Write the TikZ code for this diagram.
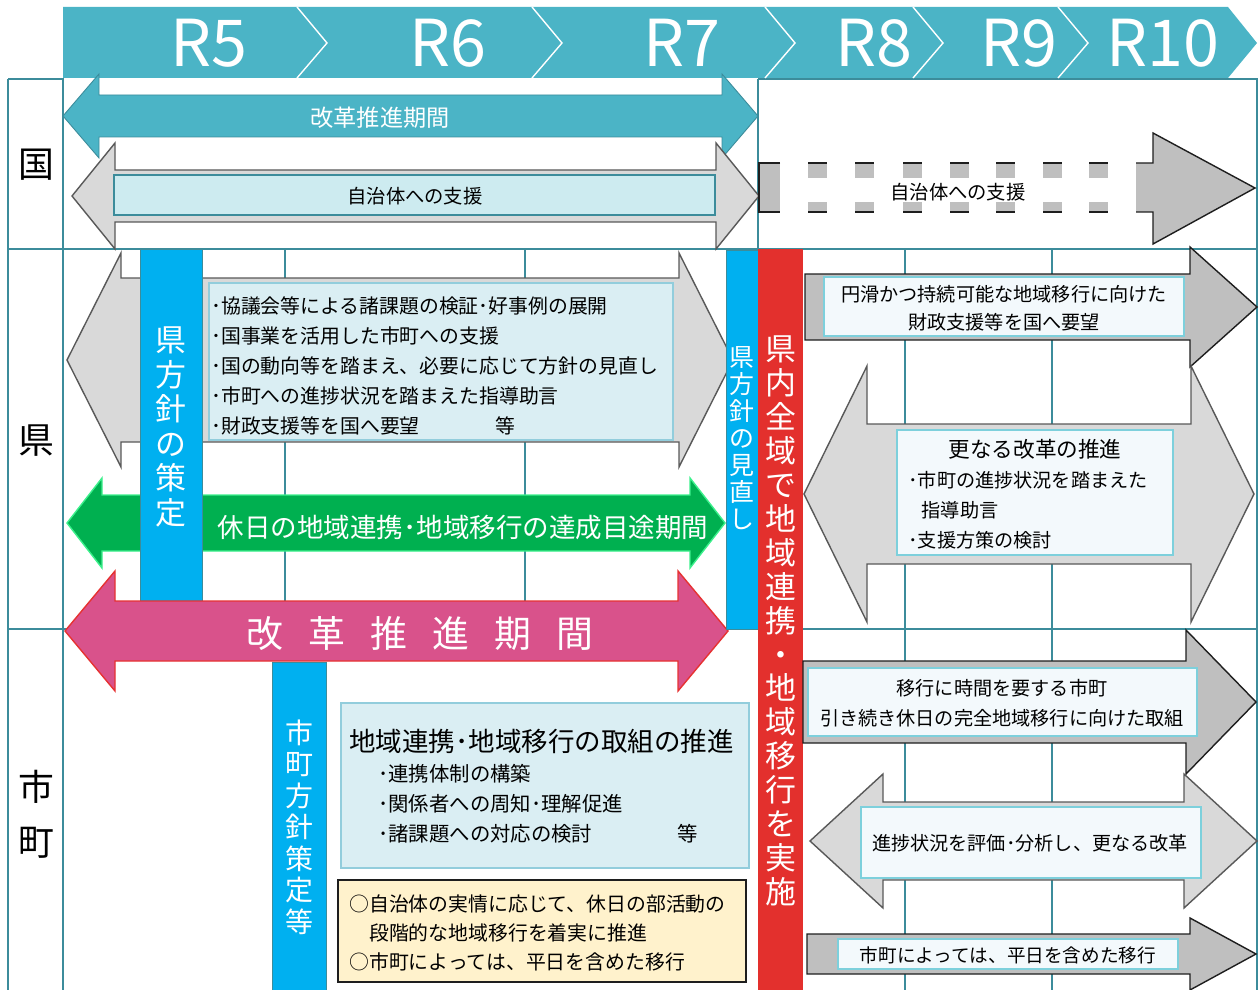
\documentclass[tikz,border=0pt]{standalone}
\usepackage{fontspec}
\setmainfont{Noto Sans CJK JP}
\usetikzlibrary{positioning}

\definecolor{hdrteal}{RGB}{75,180,198}
\definecolor{gridc}{RGB}{60,140,155}
\definecolor{lgray}{RGB}{217,217,217}
\definecolor{lgrayline}{RGB}{89,89,89}
\definecolor{dgray}{RGB}{191,191,191}
\definecolor{dgrayline}{RGB}{30,30,30}
\definecolor{cyanbox}{RGB}{205,235,240}
\definecolor{paleblue}{RGB}{218,238,243}
\definecolor{paleline}{RGB}{146,205,220}
\definecolor{whitebox}{RGB}{243,249,252}
\definecolor{whiteline}{RGB}{125,208,220}
\definecolor{barblue}{RGB}{0,176,240}
\definecolor{barred}{RGB}{227,48,45}
\definecolor{arrgreen}{RGB}{0,176,80}
\definecolor{arrgreenline}{RGB}{60,240,140}
\definecolor{arrpink}{RGB}{217,82,139}
\definecolor{arrpinkline}{RGB}{230,50,50}
\definecolor{notebox}{RGB}{255,242,204}

\newcommand{\fz}[2]{\fontsize{#1}{#2}\selectfont}
% arrow with two heads: style, left tip, right tip, centre y, shaft half, head half, head length
\newcommand{\twoway}[7]{%
  \draw[#1] (#2,#4) -- (#2+#7,#4-#6) -- (#2+#7,#4-#5) -- (#3-#7,#4-#5) -- (#3-#7,#4-#6) -- (#3,#4)
    -- (#3-#7,#4+#6) -- (#3-#7,#4+#5) -- (#2+#7,#4+#5) -- (#2+#7,#4+#6) -- cycle;}
% arrow with one head: style, start, tip, centre y, shaft half, head half, head length
\newcommand{\oneway}[7]{%
  \draw[#1] (#2,#4-#5) -- (#3-#7,#4-#5) -- (#3-#7,#4-#6) -- (#3,#4) -- (#3-#7,#4+#6)
    -- (#3-#7,#4+#5) -- (#2,#4+#5) -- cycle;}

\begin{document}
\begin{tikzpicture}[x=0.02cm, y=-0.02cm]
        \tikzset{
            gridline/.style={draw=gridc, line width=0.7pt}, % table lines
            hdr/.style={font=\fz{36.8}{40}, text=white, anchor=base}, % year labels
            side/.style={font=\fz{20.4}{24}}, % row labels
            teal arrow/.style={fill=hdrteal, draw=gridc, line width=0.5pt},
            gray arrow/.style={fill=lgray, draw=lgrayline, line width=0.8pt},
            dark arrow/.style={fill=dgray, draw=dgrayline, line width=0.8pt},
            green arrow/.style={fill=arrgreen, draw=arrgreenline, line width=0.8pt},
            pink arrow/.style={fill=arrpink, draw=arrpinkline, line width=0.8pt},
            pale/.style={fill=paleblue, draw=paleline, line width=0.8pt},
            whitish/.style={fill=whitebox, draw=whiteline, line width=0.8pt},
            vbar/.style={text=white, align=center, inner sep=0pt},
            list/.style={anchor=west, align=left, inner sep=0pt},
            ctext/.style={align=center, inner sep=0pt},
            }
        \useasboundingbox (0,0) rectangle (1259,990);

        % grid
        \draw[gridline] (8,79) -- (63,79);
        \draw[gridline] (8,79) -- (8,990);
        \draw[gridline] (63,78) -- (63,990);
        \draw[gridline] (8,249) -- (1257,249);
        \draw[gridline] (8,629) -- (1257,629);
        \draw[gridline] (758,79) -- (1257,79) -- (1257,990);
        \draw[gridline] (758,79) -- (758,249);
        \foreach \x in {285,525} \draw[gridline] (\x,249) -- (\x,629);
        \foreach \x in {905,1052} \draw[gridline] (\x,249) -- (\x,990);

        % year band
        \fill[hdrteal] (63,7) -- (1228,7) -- (1257,43) -- (1228,78) -- (63,78) -- cycle;
        \foreach \x in {297,532,765,913,1058} \draw[white, line width=0.8pt] (\x,7) -- (\x+30,43) -- (\x,78);
        \node[hdr] (r5) at (209,67) {R5};
        \node[hdr] (r6) at (448,67) {R6};
        \node[hdr] (r7) at (682,67) {R7};
        \node[hdr] (r8) at (874,67) {R8};
        \node[hdr] (r9) at (1019,67) {R9};
        \node[hdr] (r10) at (1163,67) {R10};

        % row labels
        \node[side] (kuni) at (36,165) {国};
        \node[side] (ken) at (36,441) {県};
        \node[side] (shi) at (36,787) {市};
        \node[side, below=0.23cm of shi] (cho) {町};

        % kuni row
        \twoway{teal arrow}{63}{758}{116}{21}{42}{36}
        \node[font=\fz{13.2}{16}, text=white] (kikan) at (380,118) {改革推進期間};
        \twoway{gray arrow}{72}{759}{196}{26}{53}{43}
        \draw[fill=cyanbox, draw=gridc, line width=0.7pt] (114,175) rectangle (715,215);
        \node[font=\fz{11}{13}] (shien) at (415,196) {自治体への支援};
        \fill[dgray] (759,163) rectangle (780,212);
        \draw[dgrayline, line width=0.8pt] (780,163) -- (759,163) -- (759,212) -- (780,212);
        \foreach \x in {808,855,903,950,996,1043,1089} {
            \fill[dgray] (\x,163) rectangle (\x+19,178);
            \fill[dgray] (\x,202) rectangle (\x+19,212);
            \draw[dgrayline, line width=0.8pt] (\x,163) -- (\x+19,163);
            \draw[dgrayline, line width=0.8pt] (\x,212) -- (\x+19,212);
        }
        \fill[dgray] (1136,163) -- (1153,163) -- (1153,133) -- (1255,188) -- (1153,244) -- (1153,212) -- (1136,212) -- cycle;
        \draw[dgrayline, line width=0.8pt] (1136,163) -- (1153,163) -- (1153,133) -- (1255,188) -- (1153,244) -- (1153,212) -- (1136,212);
        \node[font=\fz{11}{13}] (shien2) at (958,192) {自治体への支援};

        % ken row
        \twoway{gray arrow}{67}{733}{360}{82}{107}{54}
        \draw[pale] (209,283) rectangle (673,440);
        \node[list, font=\fz{11.3}{17}] (kentasks) at (211,366) {･協議会等による諸課題の検証･好事例の展開\\･国事業を活用した市町への支援\\･国の動向等を踏まえ、必要に応じて方針の見直し\\･市町への進捗状況を踏まえた指導助言\\･財政支援等を国へ要望\hspace{3.8em}等};
        \twoway{green arrow}{67}{725}{523}{28}{45}{35}
        \node[font=\fz{15.1}{18}, text=white] (mokuto) at (463,527) {休日の地域連携･地域移行の達成目途期間};
        \draw[fill=barblue, draw=gridc, line width=0.5pt] (140,249) rectangle (202,601);
        \node[vbar, font=\fz{17.6}{19.6}] (kenplan) at (171,427) {県\\方\\針\\の\\策\\定};
        \twoway{pink arrow}{65}{728}{631}{30}{60}{50}
        \node[font=\fz{21}{24}, text=white] (kaikaku) at (420,634) {改\hspace{0.68em}革\hspace{0.68em}推\hspace{0.68em}進\hspace{0.68em}期\hspace{0.68em}間};
        \draw[fill=barblue, draw=gridc, line width=0.5pt] (726,250) rectangle (758,629);
        \node[vbar, font=\fz{14.2}{15.3}] (kenreview) at (742,438) {県\\方\\針\\の\\見\\直\\し};
        \fill[barred] (758,249) rectangle (803,990);
        \node[vbar, font=\fz{17.6}{19.3}] (zeniki) at (781,621) {県\\内\\全\\域\\で\\地\\域\\連\\携\\・\\地\\域\\移\\行\\を\\実\\施};

        % right side of ken row
        \oneway{dark arrow}{805}{1257}{307}{33}{60}{67}
        \draw[whitish] (824,277) rectangle (1184,336);
        \node[ctext, font=\fz{10.9}{15.9}] (zaisei) at (1004,308) {円滑かつ持続可能な地域移行に向けた\\財政支援等を国へ要望};
        \twoway{gray arrow}{804}{1254}{494}{70}{128}{63}
        \draw[whitish] (897,430) rectangle (1173,555);
        \node[font=\fz{12.3}{15}] (sarani) at (1035,449) {更なる改革の推進};
        \node[list, font=\fz{10.9}{17}] (saranilist) at (908,510) {･市町の進捗状況を踏まえた\\\hspace{0.7em}指導助言\\･支援方策の検討};

        % shicho row
        \draw[fill=barblue, draw=gridc, line width=0.5pt] (272,662) rectangle (326,990);
        \node[vbar, font=\fz{15.9}{17.9}] (shiplan) at (299,827) {市\\町\\方\\針\\策\\定\\等};
        \draw[pale] (341,703) rectangle (749,868);
        \node[anchor=west, inner sep=0pt, font=\fz{15.1}{18}] (torikumi) at (349,741) {地域連携･地域移行の取組の推進};
        \node[list, font=\fz{11.6}{17}] (torikumilist) at (378,804) {･連携体制の構築\\･関係者への周知･理解促進\\･諸課題への対応の検討\hspace{4.2em}等};
        \draw[fill=notebox, draw=dgrayline, line width=0.8pt] (338,880) rectangle (746,982);
        \node[list, font=\fz{11.3}{16.7}] (note) at (349,933) {○自治体の実情に応じて、休日の部活動の\\\hspace{1em}段階的な地域移行を着実に推進\\○市町によっては、平日を含めた移行};

        % right side of shicho row
        \oneway{dark arrow}{803}{1256}{702}{41}{72}{70}
        \draw[whitish] (808,668) rectangle (1197,736);
        \node[ctext, font=\fz{10.9}{17}] (jikan) at (1002,703) {移行に時間を要する市町\\引き続き休日の完全地域移行に向けた取組};
        \twoway{gray arrow}{810}{1257}{841}{39}{67}{73}
        \draw[whitish] (861,807) rectangle (1201,878);
        \node[font=\fz{10.9}{13}] (hyoka) at (1030,843) {進捗状況を評価･分析し、更なる改革};
        \oneway{dark arrow}{807}{1256}{954}{20}{36}{66}
        \draw[whitish] (838,939) rectangle (1178,969);
        \node[font=\fz{10.6}{13}] (heijitsu) at (1008,955) {市町によっては、平日を含めた移行};
    \end{tikzpicture}
\end{document}
